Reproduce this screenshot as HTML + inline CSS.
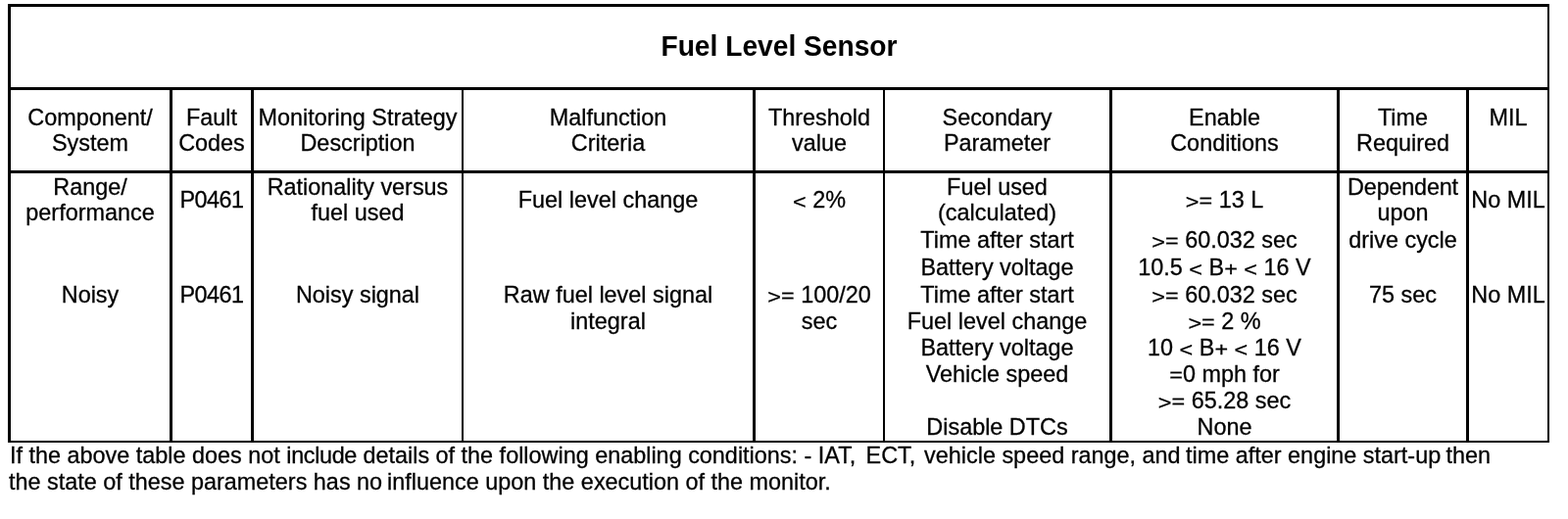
<!DOCTYPE html>
<html lang="en"><head><meta charset="utf-8"><title>Fuel Level Sensor</title>
<style>
html,body{margin:0;padding:0;background:#fff;}
body{width:1600px;height:530px;position:relative;overflow:hidden;font-family:"Liberation Sans",Arial,Helvetica,sans-serif;color:#000;}
.v,.h{position:absolute;background:#000;}
.t{position:absolute;white-space:nowrap;text-align:center;font-size:24.3px;line-height:28px;height:28px;transform:scaleX(0.963);transform-origin:50% 50%;-webkit-text-stroke:0.3px #000;}
.title{position:absolute;left:10.5px;width:1568px;text-align:center;font-weight:bold;font-size:28.6px;line-height:34px;height:34px;white-space:nowrap;transform:scaleX(0.985);transform-origin:50% 50%;}
.note{position:absolute;left:9.5px;white-space:nowrap;font-size:24.3px;line-height:28px;height:28px;transform:scaleX(0.963);transform-origin:0 50%;-webkit-text-stroke:0.3px #000;}
.s{position:relative;}
.g,.e{display:inline-block;line-height:inherit;}
.g{transform:translateY(2.2px) scaleY(.85);}
.e{transform:translateY(1.9px) scaleY(.8);}
</style></head><body>
<div class="v" style="left:8px;top:4px;width:3px;height:448px"></div>
<div class="v" style="left:173px;top:89px;width:3px;height:363px"></div>
<div class="v" style="left:256px;top:89px;width:3px;height:363px"></div>
<div class="v" style="left:471px;top:89px;width:2px;height:363px"></div>
<div class="v" style="left:768px;top:89px;width:3px;height:363px"></div>
<div class="v" style="left:901px;top:89px;width:2px;height:363px"></div>
<div class="v" style="left:1132px;top:89px;width:3px;height:363px"></div>
<div class="v" style="left:1364px;top:89px;width:3px;height:363px"></div>
<div class="v" style="left:1496px;top:89px;width:3px;height:363px"></div>
<div class="v" style="left:1579px;top:4px;width:2px;height:448px"></div>
<div class="h" style="left:8px;top:4px;width:1573px;height:3px"></div>
<div class="h" style="left:8px;top:89px;width:1573px;height:3px"></div>
<div class="h" style="left:8px;top:174px;width:1573px;height:3px"></div>
<div class="h" style="left:8px;top:450px;width:1573px;height:2px"></div>
<div class="title" style="top:30px">Fuel Level Sensor</div>
<div class="t" style="left:-49px;width:282px;top:106px">Component/</div>
<div class="t" style="left:-49px;width:282px;top:132px">System</div>
<div class="t" style="left:116px;width:200px;top:106px">Fault</div>
<div class="t" style="left:116px;width:200px;top:132px">Codes</div>
<div class="t" style="left:199px;width:332px;top:106px">Monitoring Strategy</div>
<div class="t" style="left:199px;width:332px;top:132px">Description</div>
<div class="t" style="left:413px;width:415px;top:106px">Malfunction</div>
<div class="t" style="left:413px;width:415px;top:132px">Criteria</div>
<div class="t" style="left:711px;width:250px;top:106px">Threshold</div>
<div class="t" style="left:711px;width:250px;top:132px">value</div>
<div class="t" style="left:843px;width:349px;top:106px">Secondary</div>
<div class="t" style="left:843px;width:349px;top:132px">Parameter</div>
<div class="t" style="left:1075px;width:349px;top:106px">Enable</div>
<div class="t" style="left:1075px;width:349px;top:132px">Conditions</div>
<div class="t" style="left:1307px;width:249px;top:106px">Time</div>
<div class="t" style="left:1307px;width:249px;top:132px">Required</div>
<div class="t" style="left:1439px;width:200px;top:106px">MIL</div>
<div class="t" style="left:-49px;width:282px;top:177px">Range/</div>
<div class="t" style="left:-49px;width:282px;top:203px">performance</div>
<div class="t" style="left:-49px;width:282px;top:287px">Noisy</div>
<div class="t" style="left:116px;width:200px;top:190px"><span style="letter-spacing:-0.55px">P0461</span></div>
<div class="t" style="left:116px;width:200px;top:287px"><span style="letter-spacing:-0.55px">P0461</span></div>
<div class="t" style="left:199px;width:332px;top:177px">Rationality versus</div>
<div class="t" style="left:199px;width:332px;top:203px">fuel used</div>
<div class="t" style="left:199px;width:332px;top:287px">Noisy signal</div>
<div class="t" style="left:413px;width:415px;top:190px">Fuel level change</div>
<div class="t" style="left:413px;width:415px;top:287px">Raw fuel level signal</div>
<div class="t" style="left:413px;width:415px;top:314px">integral</div>
<div class="t" style="left:711px;width:250px;top:190px"><span class="g">&lt;</span> 2%</div>
<div class="t" style="left:711px;width:250px;top:287px"><span class="g">&gt;</span><span class="e">=</span> 100/20</div>
<div class="t" style="left:711px;width:250px;top:314px">sec</div>
<div class="t" style="left:843px;width:349px;top:177px">Fuel used</div>
<div class="t" style="left:843px;width:349px;top:203px">(calculated)</div>
<div class="t" style="left:843px;width:349px;top:231px">Time after start</div>
<div class="t" style="left:843px;width:349px;top:259px">Battery voltage</div>
<div class="t" style="left:843px;width:349px;top:287px">Time after start</div>
<div class="t" style="left:843px;width:349px;top:314px">Fuel level change</div>
<div class="t" style="left:843px;width:349px;top:341px">Battery voltage</div>
<div class="t" style="left:843px;width:349px;top:368px">Vehicle speed</div>
<div class="t" style="left:843px;width:349px;top:422px">Disable DTCs</div>
<div class="t" style="left:1075px;width:349px;top:190px"><span class="g">&gt;</span><span class="e">=</span> 13 L</div>
<div class="t" style="left:1075px;width:349px;top:231px"><span class="g">&gt;</span><span class="e">=</span> 60.032 sec</div>
<div class="t" style="left:1075px;width:349px;top:259px">10.5 <span class="g">&lt;</span> B<span class="g">+</span> <span class="g">&lt;</span> 16 V</div>
<div class="t" style="left:1075px;width:349px;top:287px"><span class="g">&gt;</span><span class="e">=</span> 60.032 sec</div>
<div class="t" style="left:1075px;width:349px;top:314px"><span class="g">&gt;</span><span class="e">=</span> 2 %</div>
<div class="t" style="left:1075px;width:349px;top:341px">10 <span class="g">&lt;</span> B<span class="g">+</span> <span class="g">&lt;</span> 16 V</div>
<div class="t" style="left:1075px;width:349px;top:368px"><span class="e">=</span>0 mph for</div>
<div class="t" style="left:1075px;width:349px;top:395px"><span class="g">&gt;</span><span class="e">=</span> 65.28 sec</div>
<div class="t" style="left:1075px;width:349px;top:422px">None</div>
<div class="t" style="left:1307px;width:249px;top:177px"><span style="letter-spacing:-0.2px">Dependent</span></div>
<div class="t" style="left:1307px;width:249px;top:203px">upon</div>
<div class="t" style="left:1307px;width:249px;top:231px">drive cycle</div>
<div class="t" style="left:1307px;width:249px;top:287px">75 sec</div>
<div class="t" style="left:1439px;width:200px;top:190px">No MIL</div>
<div class="t" style="left:1439px;width:200px;top:287px">No MIL</div>
<div class="note" style="top:451px">If the above table does not <span style="letter-spacing:-0.37px">include</span> details of the following enabling conditions: - IAT, <span class="s" style="left:3.89px">ECT,</span> <span class="s" style="left:6.23px">vehicle speed range, and</span> <span class="s" style="left:5.19px">time after engine start-up</span> <span class="s" style="left:3.89px">then</span></div>
<div class="note" style="top:478px"><span class="s" style="left:-1.04px">the state of these parameters has no</span> <span class="s" style="left:-2.60px">influence upon the execution of the monitor.</span></div>
</body></html>
